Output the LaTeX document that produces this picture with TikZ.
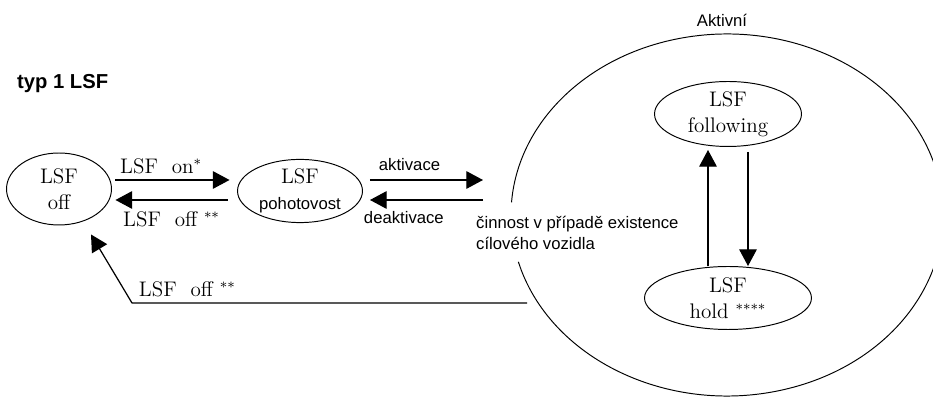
\documentclass[tikz,border=0pt]{standalone}
\usepackage{fontspec}
\newfontfamily\arial{Liberation Sans}
\usetikzlibrary{shapes.geometric,arrows.meta}
\begin{document}
\begin{tikzpicture}[x=0.02cm,y=0.02cm,line join=round,
		stav/.style={draw,ellipse,inner sep=0pt,line width=0.55pt,align=center,font=\fontsize{12}{15}\selectfont},
		sipka/.style={line width=0.7pt,-{Triangle[length=9.5pt,width=10pt]}},
		popis/.style={font=\arial\fontsize{9.5}{12}\selectfont},
		napis/.style={font=\fontsize{12}{15}\selectfont}]
	\useasboundingbox (0,0) rectangle (933,398);
	\clip (0,0) rectangle (933,398);
	
	\node[anchor=west,font=\arial\bfseries\fontsize{11.5}{14}\selectfont] (typ) at (11,314) {typ 1 LSF};
	
	%%%% stavy
	\node[stav,minimum width=2.1cm,minimum height=1.44cm] (off) at (59,209) {LSF\\off};
	\node[stav,minimum width=2.5cm,minimum height=1.16cm] (pohot) at (300,207) {LSF\\{\arial\fontsize{9.5}{12}\selectfont pohotovost}};
	\node[stav,minimum width=2.94cm,minimum height=1.3cm] (follow) at (728,284) {LSF\\following};
	\node[stav,minimum width=3.34cm,minimum height=1.26cm] (hold) at (728,100) {LSF\\hold $^{****}$};
	
	%%%% aktivni (elipsa s mezerou)
	\draw[line width=0.55pt] (727,183) ++(195:216 and 181) arc[start angle=195,end angle=536,x radius=216,y radius=181];
	\node[popis] (aktlbl) at (722,378) {Aktivní};
	\node[popis,anchor=west,align=left] (cinnost) at (470,165) {činnost v případě existence\\cílového vozidla};
	
	\coordinate (vstup) at (483,218);
	\coordinate (vystup) at (483,198);
	\coordinate (vyjezd) at (527,95);
	\coordinate (roh) at (132,95);
	
	%%%% prechody
	\draw[sipka] ([shift={(3.5,9)}]off.east) -- node[napis,pos=0.4,above]{LSF\ \ on$^{*}$} ([shift={(-7.5,11)}]pohot.west);
	\draw[sipka] ([shift={(-9.5,-9)}]pohot.west) -- node[napis,midway,below,yshift=-3pt]{LSF\ \ off $^{**}$} ([shift={(3.5,-11)}]off.east);
	\draw[sipka] ([shift={(7,11)}]pohot.east) -- node[popis,pos=0.35,above,yshift=1.5pt]{aktivace} (vstup);
	\draw[sipka] (vystup) -- node[popis,pos=0.7,below,yshift=-3pt]{deaktivace} ([shift={(7,-9)}]pohot.east);
	\draw[sipka] (vyjezd) -- node[napis,pos=0.86,above]{LSF\ \ off $^{**}$} (roh) -- ([shift={(32,-9)}]off.south);
	\draw[sipka] ([shift={(-20,0)}]hold.north) -- ([shift={(-20,-3)}]follow.south);
	\draw[sipka] ([shift={(20,-5)}]follow.south) -- ([shift={(20,0)}]hold.north);
\end{tikzpicture}
\end{document}
